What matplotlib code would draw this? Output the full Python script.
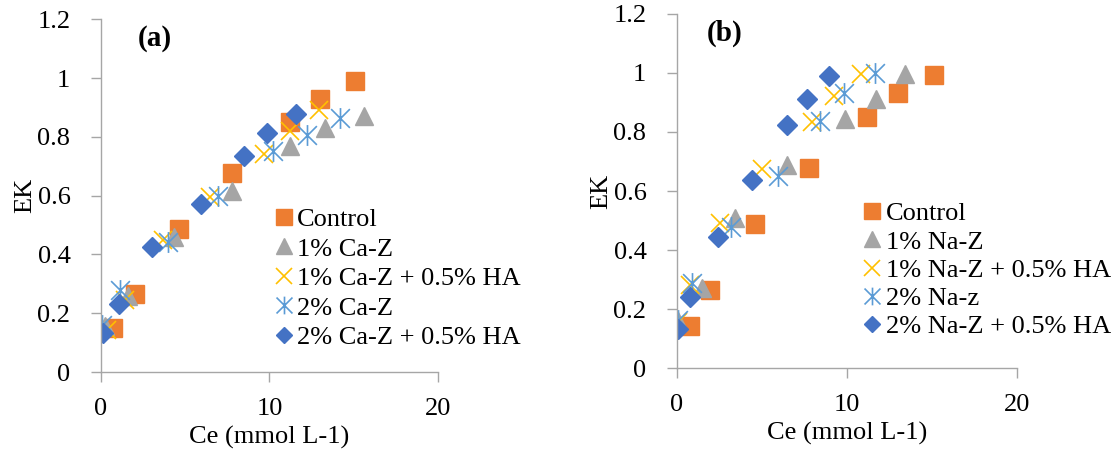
import matplotlib
matplotlib.use("Agg")
import matplotlib.pyplot as plt
from matplotlib.path import Path

plt.rcParams['font.family'] = ['Liberation Serif', 'DejaVu Serif']

# panel (a) data
a_ctrl_x = [0.7, 2.0, 4.65, 7.8, 11.2, 13.0, 15.1]
a_ctrl_y = [0.15, 0.265, 0.485, 0.677, 0.851, 0.93, 0.99]
a_1_x = [0.25, 1.6, 4.35, 7.8, 11.2, 13.3, 15.6]
a_1_y = [0.157, 0.26, 0.458, 0.617, 0.77, 0.829, 0.872]
a_1ha_x = [0.34, 1.42, 3.66, 6.47, 9.7, 11.2, 12.96]
a_1ha_y = [0.143, 0.245, 0.449, 0.596, 0.741, 0.82, 0.891]
a_2_x = [0.04, 1.13, 3.96, 6.92, 10.2, 12.2, 14.2]
a_2_y = [0.16, 0.279, 0.443, 0.599, 0.753, 0.806, 0.863]
a_2ha_x = [0.14, 1.09, 3.0, 5.93, 8.49, 9.87, 11.55]
a_2ha_y = [0.134, 0.23, 0.424, 0.571, 0.736, 0.814, 0.876]

# panel (b) data
b_ctrl_x = [0.76, 1.94, 4.6, 7.76, 11.2, 13.0, 15.1]
b_ctrl_y = [0.143, 0.264, 0.488, 0.679, 0.852, 0.931, 0.993]
b_1_x = [0.08, 1.45, 3.41, 6.45, 9.88, 11.7, 13.4]
b_1_y = [0.16, 0.27, 0.51, 0.689, 0.843, 0.911, 0.995]
b_1ha_x = [0.05, 0.76, 2.53, 4.98, 7.92, 9.25, 10.86]
b_1ha_y = [0.157, 0.281, 0.49, 0.673, 0.835, 0.922, 0.997]
b_2_x = [0.08, 0.86, 3.18, 5.92, 8.41, 9.84, 11.65]
b_2_y = [0.163, 0.287, 0.479, 0.652, 0.838, 0.933, 1.0]
b_2ha_x = [0.04, 0.76, 2.43, 4.43, 6.49, 7.66, 8.94]
b_2ha_y = [0.131, 0.242, 0.445, 0.637, 0.824, 0.911, 0.991]

labels_a = ['Control', '1% Ca-Z', '1% Ca-Z + 0.5% HA', '2% Ca-Z', '2% Ca-Z + 0.5% HA']
labels_b = ['Control', '1% Na-Z', '1% Na-Z + 0.5% HA', '2% Na-z', '2% Na-Z + 0.5% HA']

# excel-like star marker (vertical line + x)
star = Path([(0, -1), (0, 1), (-0.9, -0.9), (0.9, 0.9), (-0.9, 0.9), (0.9, -0.9)],
            [Path.MOVETO, Path.LINETO, Path.MOVETO, Path.LINETO, Path.MOVETO, Path.LINETO])

styles = [
    dict(marker='s', color='#ED7D31', ms=13.5),
    dict(marker='^', color='#A5A5A5', ms=13),
    dict(marker='x', color='#FFC000', ms=13, mew=1.2),
    dict(marker=star, color='#5B9BD5', ms=15, mew=1.2),
    dict(marker='D', color='#4472C4', ms=10),
]

fig = plt.figure(figsize=(11.18, 4.5), dpi=100)
ax1 = fig.add_axes([0.0903, 0.1733, 0.3014, 0.784])
ax2 = fig.add_axes([0.6055, 0.182, 0.304, 0.787])

def draw(ax, xs, ys, labels, tag, leg_pos, spacing):
    for x, y, lab, st in zip(xs, ys, labels, styles):
        ax.plot(x, y, linestyle='none', label=lab, **st)
    ax.set_xlim(0, 20)
    ax.set_ylim(0, 1.2)
    ax.set_xticks([0, 10, 20])
    ax.set_yticks([0, 0.2, 0.4, 0.6, 0.8, 1.0, 1.2])
    ax.set_yticklabels(['0', '0.2', '0.4', '0.6', '0.8', '1', '1.2'])
    ax.spines['top'].set_visible(False)
    ax.spines['right'].set_visible(False)
    for s in ['left', 'bottom']:
        ax.spines[s].set_color('#A6A6A6')
        ax.spines[s].set_linewidth(1.0)
    ax.tick_params(colors='#A6A6A6', labelcolor='black', labelsize=19, length=7, width=1.0)
    ax.tick_params(axis='x', pad=12)
    ax.tick_params(axis='y', pad=15)
    ax.set_xlabel('Ce (mmol L-1)', fontsize=19, labelpad=4)
    ax.set_ylabel('EK', fontsize=19, labelpad=1)
    ax.text(tag[1], 1.135, tag[0], fontsize=21, fontweight='bold', va='center', ha='left')
    ax.legend(loc='upper left', bbox_to_anchor=leg_pos, frameon=False, fontsize=19,
              borderpad=0, borderaxespad=0, handlelength=0.7, handletextpad=0.15,
              labelspacing=spacing, markerscale=0.85)

draw(ax1, [a_ctrl_x, a_1_x, a_1ha_x, a_2_x, a_2ha_x],
     [a_ctrl_y, a_1_y, a_1ha_y, a_2_y, a_2ha_y], labels_a, ('(a)', 2.2), (0.515, 0.466), 0.23)
draw(ax2, [b_ctrl_x, b_1_x, b_1ha_x, b_2_x, b_2ha_x],
     [b_ctrl_y, b_1_y, b_1ha_y, b_2_y, b_2ha_y], labels_b, ('(b)', 1.76), (0.548, 0.469), 0.18)

fig.savefig('out.png', dpi=100)
